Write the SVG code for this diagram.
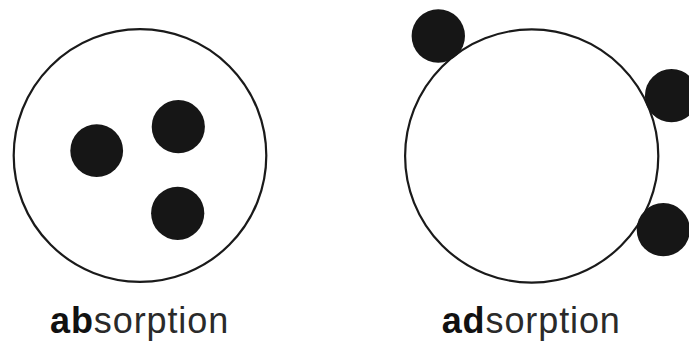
<svg xmlns="http://www.w3.org/2000/svg" width="689" height="343" viewBox="0 0 689 343">
<style>
.ring{fill:none;stroke:#1a1a1a;stroke-width:2.2}
.dot{fill:#161616}
.lbl{font-family:"Liberation Sans",Arial,sans-serif;font-size:36px;fill:#2a2a2a;letter-spacing:0.9px}
.b{font-weight:bold;fill:#111}
</style>
<rect width="689" height="343" fill="#fff"/>
<g id="absorption">
<circle class="ring" cx="140" cy="155.5" r="126.3"/>
<circle class="dot" cx="96.7" cy="150.7" r="26.4"/>
<circle class="dot" cx="178.3" cy="126.7" r="26.6"/>
<circle class="dot" cx="177.7" cy="213.3" r="26.6"/>
<text class="lbl" x="50" y="332.7"><tspan class="b">ab</tspan>sorption</text>
</g>
<g id="adsorption">
<circle class="ring" cx="531.7" cy="156" r="126.6"/>
<circle class="dot" cx="438.3" cy="36" r="26.7"/>
<circle class="dot" cx="671.5" cy="95.7" r="26.6"/>
<circle class="dot" cx="663.3" cy="229.7" r="26.6"/>
<text class="lbl" x="441.7" y="332.7"><tspan class="b">ad</tspan>sorption</text>
</g>
</svg>
